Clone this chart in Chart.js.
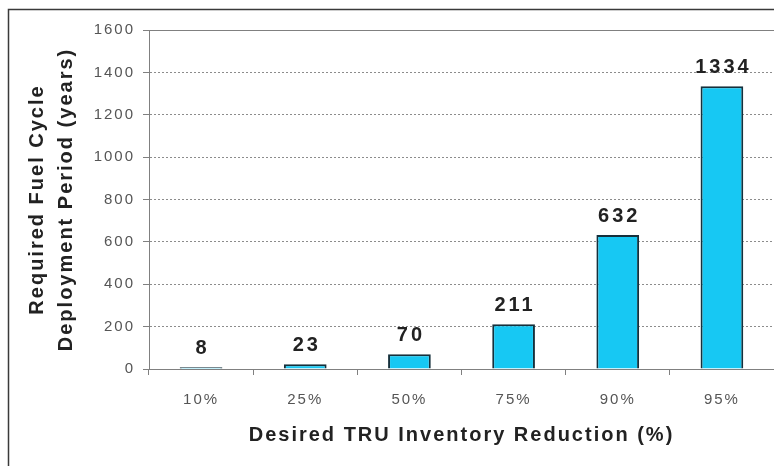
<!DOCTYPE html>
<html>
<head>
<meta charset="utf-8">
<title>TRU Inventory Reduction</title>
<script src="https://cdn.jsdelivr.net/npm/chart.js@4.4.1/dist/chart.umd.min.js"></script>
<style>
  html, body { margin: 0; padding: 0; background: #fff; }
  #wrap { width: 774px; height: 466px; }
</style>
</head>
<body>
<div id="wrap"><canvas id="deployChart"></canvas></div>
<script>
// deployment period needed for each reduction target
const reductionLabels = ['10%', '25%', '50%', '75%', '90%', '95%'];
const deploymentYears = [8, 23, 70, 211, 632, 1334];
const yMin = 0;
const yMax = 1600;
const yStep = 200;

const FONT = '"Liberation Sans", Arial, sans-serif';

// spaced-out lettering for axis text, plus the outer frame and top plot edge
const framePlugin = {
    id: 'frame',
    beforeDraw(chart) {
        chart.ctx.letterSpacing = '2px';
    },
    afterDraw(chart) {
        const { ctx, chartArea } = chart;
        ctx.save();
        ctx.letterSpacing = '0px';
        ctx.strokeStyle = '#808080';
        ctx.lineWidth = 1;
        ctx.beginPath();
        ctx.moveTo(chartArea.left - 6, Math.round(chartArea.top) + 0.5);
        ctx.lineTo(chartArea.right, Math.round(chartArea.top) + 0.5);
        ctx.stroke();

        ctx.strokeStyle = '#3a3a3a';
        ctx.lineWidth = 1.5;
        ctx.beginPath();
        ctx.moveTo(8.5, chart.height);
        ctx.lineTo(8.5, 9.5);
        ctx.lineTo(chart.width, 9.5);
        ctx.stroke();
        ctx.restore();
    }
};

// value printed above each bar
const valueLabels = {
    id: 'valueLabels',
    afterDatasetsDraw(chart) {
        const { ctx } = chart;
        const meta = chart.getDatasetMeta(0);
        ctx.save();
        ctx.letterSpacing = '3px';
        ctx.font = 'bold 20px ' + FONT;
        ctx.fillStyle = '#222';
        ctx.textAlign = 'center';
        ctx.textBaseline = 'alphabetic';
        meta.data.forEach((bar, i) => {
            ctx.fillText(String(deploymentYears[i]), bar.x + 1.5, bar.y - 13);
        });
        ctx.restore();
    }
};

const ctx = document.getElementById('deployChart').getContext('2d');

new Chart(ctx, {
    type: 'bar',
    data: {
        labels: reductionLabels,
        datasets: [{
            data: deploymentYears,
            backgroundColor: '#17c8f3',
            borderColor: '#15303c',
            borderWidth: 2,
            barPercentage: 0.41,
            categoryPercentage: 1
        }]
    },
    options: {
        responsive: true,
        maintainAspectRatio: false,
        animation: false,
        layout: { padding: { top: 30, right: 0, bottom: 0, left: 0 } },
        plugins: {
            legend: { display: false },
            tooltip: { enabled: false }
        },
        scales: {
            x: {
                grid: {
                    drawOnChartArea: false,
                    drawTicks: true,
                    tickLength: 6,
                    color: '#808080'
                },
                border: { color: '#808080', width: 1 },
                ticks: {
                    color: '#555',
                    font: { family: FONT, size: 15 },
                    padding: 16
                },
                title: {
                    display: true,
                    text: 'Desired TRU Inventory Reduction (%)',
                    color: '#222',
                    font: { family: FONT, size: 20, weight: 'bold' },
                    padding: { top: 0, bottom: 19 }
                },
                afterFit(scale) { scale.height = 97; }
            },
            y: {
                min: yMin,
                max: yMax,
                ticks: {
                    stepSize: yStep,
                    color: '#555',
                    font: { family: FONT, size: 15 },
                    padding: 8,
                    callback: (v) => String(v)
                },
                grid: {
                    color: '#8c8c8c',
                    tickColor: '#808080',
                    tickLength: 6,
                    tickBorderDash: []
                },
                border: { color: '#808080', width: 1, dash: [2, 2] },
                title: {
                    display: true,
                    text: ['Required Fuel Cycle', 'Deployment Period (years)'],
                    color: '#222',
                    font: { family: FONT, size: 20, weight: 'bold', lineHeight: 1.45 },
                    padding: { top: 23, bottom: 0 }
                },
                afterFit(scale) { scale.width = 149; }
            }
        }
    },
    plugins: [framePlugin, valueLabels]
});
</script>
</body>
</html>
